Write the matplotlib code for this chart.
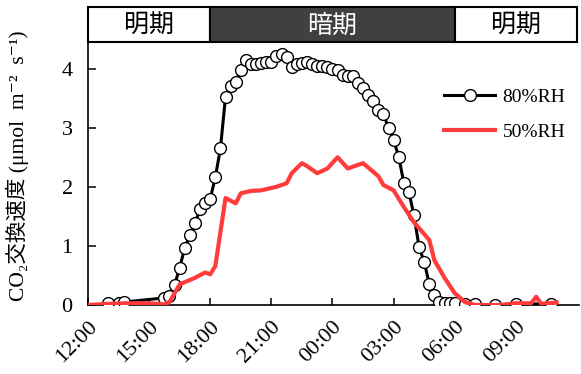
import numpy as np
import matplotlib
matplotlib.use('Agg')
import matplotlib.pyplot as plt
from matplotlib.patches import Rectangle

plt.rcParams['font.family'] = ['Liberation Serif', 'DejaVu Serif', 'Noto Sans CJK JP']

# CO2 exchange rate, 80%RH (clock time, umol m-2 s-1)
rh80_time = ['13:00', '13:30', '13:45',
             '15:45', '16:00', '16:15', '16:30', '16:45', '17:00', '17:15', '17:30', '17:45',
             '18:00', '18:15', '18:30', '18:45', '19:00', '19:15', '19:30', '19:45',
             '20:00', '20:15', '20:30', '20:45', '21:00', '21:15', '21:30', '21:45',
             '22:00', '22:15', '22:30', '22:45', '23:00', '23:15', '23:30', '23:45',
             '00:00', '00:15', '00:30', '00:45', '01:00', '01:15', '01:30', '01:45',
             '02:00', '02:15', '02:30', '02:45', '03:00', '03:15', '03:30', '03:45',
             '04:00', '04:15', '04:30', '04:45', '05:00', '05:15', '05:30', '05:45',
             '06:00', '06:30', '07:00', '08:00', '09:00', '10:45']
rh80_rate = [0.03, 0.03, 0.05,
             0.12, 0.15, 0.34, 0.63, 0.97, 1.18, 1.38, 1.62, 1.72,
             1.80, 2.16, 2.65, 3.52, 3.71, 3.77, 3.98, 4.14,
             4.08, 4.08, 4.10, 4.12, 4.12, 4.22, 4.24, 4.19,
             4.02, 4.08, 4.10, 4.12, 4.08, 4.05, 4.05, 4.02,
             4.00, 3.97, 3.90, 3.88, 3.88, 3.76, 3.68, 3.55,
             3.45, 3.30, 3.24, 2.99, 2.79, 2.51, 2.07, 1.91,
             1.52, 0.98, 0.73, 0.36, 0.17, 0.05, 0.04, 0.03,
             0.03, 0.01, 0.01, 0.00, 0.02, 0.02]

# CO2 exchange rate, 50%RH
rh50_time = ['12:00', '13:00', '14:00', '15:00', '15:45', '16:00', '16:15', '16:30',
             '17:15', '17:45', '18:00', '18:15', '18:45', '19:15', '19:30', '20:00',
             '20:30', '20:45', '21:15', '21:45', '22:00', '22:30', '22:45', '23:15',
             '23:45', '00:15', '00:45', '01:30', '02:15', '02:30', '03:00', '03:30',
             '04:00', '04:45', '05:00', '05:30', '06:00', '06:30', '07:00', '08:15',
             '09:00', '09:45', '10:00', '10:15', '11:00']
rh50_rate = [0.00, 0.02, 0.03, 0.03, 0.01, 0.05, 0.20, 0.35,
             0.46, 0.55, 0.52, 0.66, 1.81, 1.72, 1.89, 1.93,
             1.94, 1.96, 2.00, 2.06, 2.23, 2.40, 2.35, 2.23,
             2.31, 2.50, 2.31, 2.40, 2.18, 2.03, 1.94, 1.66,
             1.40, 1.10, 0.76, 0.46, 0.20, 0.05, 0.00, 0.00,
             0.03, 0.03, 0.14, 0.02, 0.04]

tick_labels = ['12:00', '15:00', '18:00', '21:00', '00:00', '03:00', '06:00', '09:00']

periods = ['明期', '暗期', '明期']
period_start = ['12:00', '18:00', '06:00']
period_end = ['18:00', '06:00', '12:00']


def to_hours(s, end=False):
    h, m = map(int, s.split(':'))
    v = (h + m / 60 - 12) % 24
    if end and v == 0:
        v = 24
    return v


x80 = [to_hours(t) for t in rh80_time]
x50 = [to_hours(t) for t in rh50_time]
xmax = 24.1

fig = plt.figure(figsize=(5.81, 3.74), dpi=100)
l, b, w, h = 88 / 581, 1 - 305 / 374, (579 - 88) / 581, (305 - 42) / 374
ax = fig.add_axes([l, b, w, h])

ax.plot(x80, rh80_rate, color='black', lw=2.2, marker='o', ms=8.5,
        mfc='white', mec='black', mew=1.0, label='80%RH', zorder=3)
ax.plot(x50, rh50_rate, color='#ff3b3b', lw=3.0, label='50%RH', zorder=4)

ax.set_xlim(0, xmax)
ax.set_ylim(0, 4.45)
ax.set_xticks([to_hours(t) for t in tick_labels])
ax.set_xticklabels(tick_labels, rotation=45, ha='right', rotation_mode='anchor', fontsize=16)
ax.set_yticks([0, 1, 2, 3, 4])
ax.tick_params(axis='y', labelsize=16, direction='in', length=6, width=1.1, pad=11)
ax.tick_params(axis='x', direction='in', length=5, width=1.1, pad=9)
for s in ['top', 'right']:
    ax.spines[s].set_visible(False)
for s in ['left', 'bottom']:
    ax.spines[s].set_linewidth(1.2)

ax.set_ylabel('CO₂交換速度 (μmol  m⁻²  s⁻¹)', fontsize=15.5)
ax.yaxis.set_label_coords(-0.12, 0.53)

ax.legend(loc='upper left', bbox_to_anchor=(0.69, 0.89), frameon=False,
          fontsize=14, handlelength=2.6, handletextpad=0.4, labelspacing=0.9)

# light / dark period band
bax = fig.add_axes([l, 1 - 42 / 374, w, 35 / 374])
bax.set_xlim(0, xmax)
bax.set_ylim(0, 1)
bax.axis('off')
for name, s, e in zip(periods, period_start, period_end):
    x0, x1 = to_hours(s), to_hours(e, end=True)
    if x1 > xmax:
        x1 = xmax
    dark = name == '暗期'
    bax.add_patch(Rectangle((x0, 0), x1 - x0, 1, facecolor='#404040' if dark else 'white',
                            edgecolor='black', lw=1.5, clip_on=False))
    bax.text((x0 + x1) / 2, 0.47, name, ha='center', va='center', fontsize=18,
             color='white' if dark else 'black', family=['Noto Sans CJK JP'])

fig.savefig('out.png', dpi=100)
